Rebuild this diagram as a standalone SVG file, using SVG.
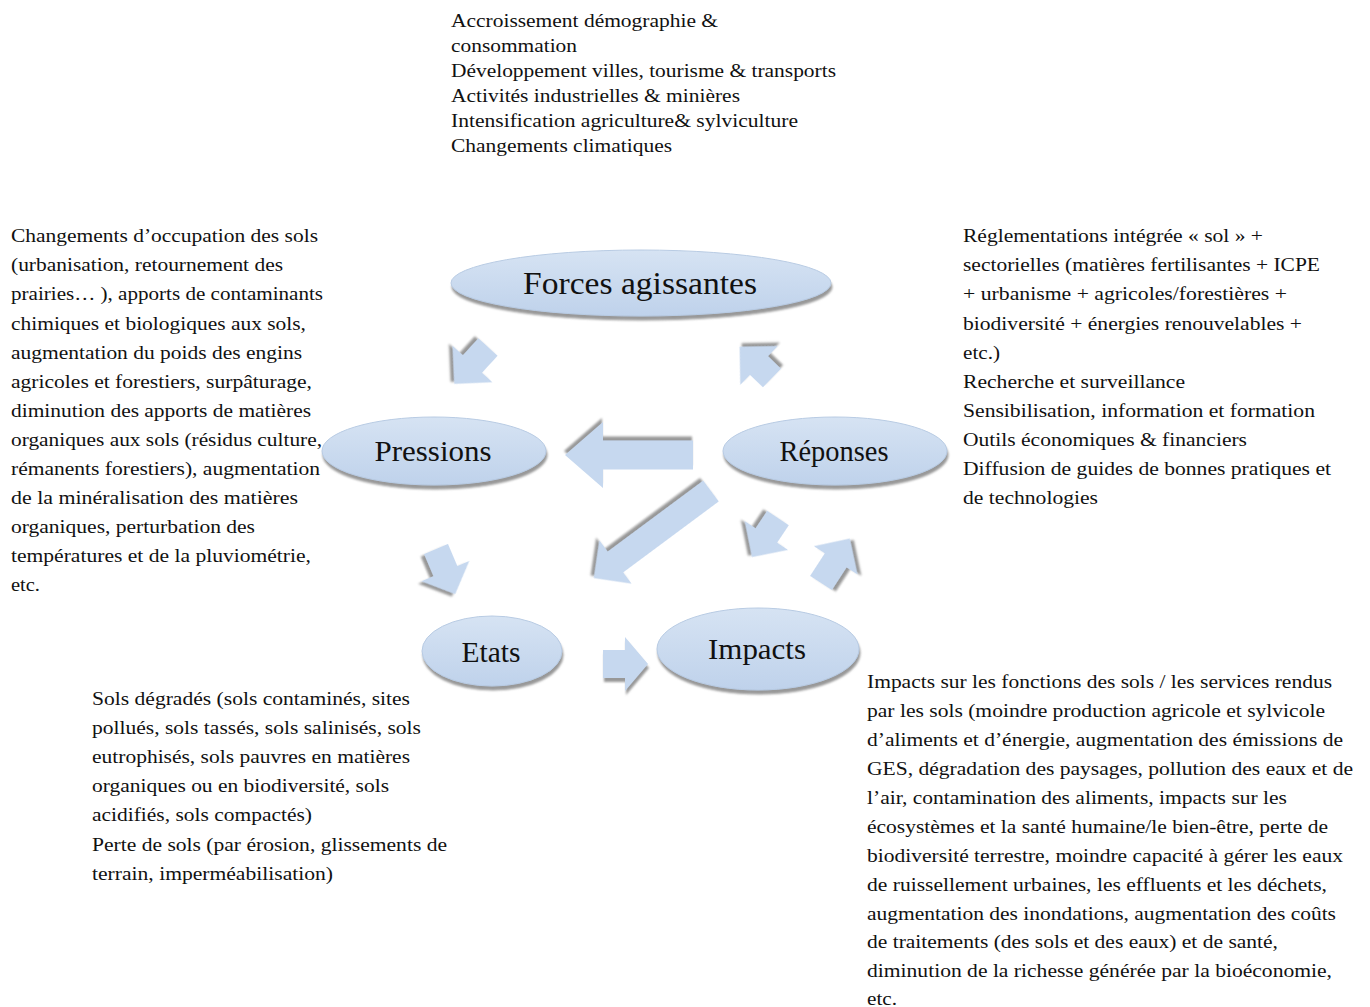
<svg xmlns="http://www.w3.org/2000/svg" width="1370" height="1007" viewBox="0 0 1370 1007">
<defs>
<linearGradient id="eg" x1="0" y1="0" x2="0" y2="1">
<stop offset="0" stop-color="#d6e3f3"/>
<stop offset="1" stop-color="#bfd2eb"/>
</linearGradient>
<filter id="sh" x="-20%" y="-20%" width="140%" height="150%">
<feDropShadow dx="1" dy="4" stdDeviation="1.2" flood-color="#7f7f7f" flood-opacity="0.8"/>
</filter>
<style>
.t{font-family:"Liberation Serif","Times New Roman",serif;font-size:19px;fill:#111;}
.n{font-family:"Liberation Serif","Times New Roman",serif;fill:#111;text-anchor:middle;}
.e{fill:url(#eg);stroke:#b8cbe3;stroke-width:1;filter:url(#sh);}
.a{fill:#c6d8ef;filter:url(#sh);}
</style>
</defs>
<rect width="1370" height="1007" fill="#fff"/>

<g id="connectors">
<path class="a" transform="translate(488,347) rotate(132.5)" d="M0,-13 H23 V-27 L50,0 L23,27 V13 H0 Z"/>
<path class="a" transform="translate(772,378) rotate(-136)" d="M0,-13 H18 V-27 L45,0 L18,27 V13 H0 Z"/>
<path class="a" transform="translate(693,455) rotate(180)" d="M0,-14.5 H90 V-33 L128,0 L90,33 V14.5 H0 Z"/>
<path class="a" transform="translate(711,491) rotate(143.4)" d="M0,-13 H119 V-27 L146,0 L119,27 V13 H0 Z"/>
<path class="a" transform="translate(436,549) rotate(67)" d="M0,-13 H24 V-26 L49,0 L24,26 V13 H0 Z"/>
<path class="a" transform="translate(778,518) rotate(123.7)" d="M0,-13 H21 V-26 L47,0 L21,26 V13 H0 Z"/>
<path class="a" transform="translate(821,583) rotate(-57)" d="M0,-13 H27 V-26 L53,0 L27,26 V13 H0 Z"/>
<path class="a" transform="translate(603,664) rotate(0)" d="M0,-14 H22 V-27 L45,0 L22,27 V14 H0 Z"/>
</g>

<g id="forces">
<ellipse class="e" cx="641" cy="283" rx="190" ry="33"/>
<text class="n" x="640" y="294" font-size="31" textLength="234" lengthAdjust="spacingAndGlyphs">Forces agissantes</text>
</g>
<g id="pressions">
<ellipse class="e" cx="434" cy="451" rx="112" ry="34"/>
<text class="n" x="433" y="461" font-size="29" textLength="117" lengthAdjust="spacingAndGlyphs">Pressions</text>
</g>
<g id="reponses">
<ellipse class="e" cx="835" cy="451" rx="112" ry="34"/>
<text class="n" x="834" y="461" font-size="29" textLength="109" lengthAdjust="spacingAndGlyphs">Réponses</text>
</g>
<g id="etats">
<ellipse class="e" cx="492" cy="651" rx="70" ry="35"/>
<text class="n" x="491" y="662" font-size="29" textLength="59" lengthAdjust="spacingAndGlyphs">Etats</text>
</g>
<g id="impacts">
<ellipse class="e" cx="758" cy="649" rx="101" ry="41"/>
<text class="n" x="757" y="659" font-size="29" textLength="98" lengthAdjust="spacingAndGlyphs">Impacts</text>
</g>

<g id="text-forces">
<text class="t" x="451" y="27" textLength="267" lengthAdjust="spacingAndGlyphs">Accroissement démographie &amp;</text>
<text class="t" x="451" y="52" textLength="126" lengthAdjust="spacingAndGlyphs">consommation</text>
<text class="t" x="451" y="77" textLength="385" lengthAdjust="spacingAndGlyphs">Développement villes, tourisme &amp; transports</text>
<text class="t" x="451" y="102" textLength="289" lengthAdjust="spacingAndGlyphs">Activités industrielles &amp; minières</text>
<text class="t" x="451" y="127" textLength="347" lengthAdjust="spacingAndGlyphs">Intensification agriculture&amp; sylviculture</text>
<text class="t" x="451" y="152" textLength="221" lengthAdjust="spacingAndGlyphs">Changements climatiques</text>
</g>

<g id="text-pressions">
<text class="t" x="11" y="242" textLength="307" lengthAdjust="spacingAndGlyphs">Changements d’occupation des sols</text>
<text class="t" x="11" y="271" textLength="272" lengthAdjust="spacingAndGlyphs">(urbanisation, retournement des</text>
<text class="t" x="11" y="300" textLength="312" lengthAdjust="spacingAndGlyphs">prairies… ), apports de contaminants</text>
<text class="t" x="11" y="330" textLength="295" lengthAdjust="spacingAndGlyphs">chimiques et biologiques aux sols,</text>
<text class="t" x="11" y="359" textLength="291" lengthAdjust="spacingAndGlyphs">augmentation du poids des engins</text>
<text class="t" x="11" y="388" textLength="301" lengthAdjust="spacingAndGlyphs">agricoles et forestiers, surpâturage,</text>
<text class="t" x="11" y="417" textLength="300" lengthAdjust="spacingAndGlyphs">diminution des apports de matières</text>
<text class="t" x="11" y="446" textLength="311" lengthAdjust="spacingAndGlyphs">organiques aux sols (résidus culture,</text>
<text class="t" x="11" y="475" textLength="309" lengthAdjust="spacingAndGlyphs">rémanents forestiers), augmentation</text>
<text class="t" x="11" y="504" textLength="287" lengthAdjust="spacingAndGlyphs">de la minéralisation des matières</text>
<text class="t" x="11" y="533" textLength="244" lengthAdjust="spacingAndGlyphs">organiques, perturbation des</text>
<text class="t" x="11" y="562" textLength="300" lengthAdjust="spacingAndGlyphs">températures et de la pluviométrie,</text>
<text class="t" x="11" y="591" textLength="29" lengthAdjust="spacingAndGlyphs">etc.</text>
</g>

<g id="text-reponses">
<text class="t" x="963" y="242" textLength="300" lengthAdjust="spacingAndGlyphs">Réglementations intégrée « sol » +</text>
<text class="t" x="963" y="271" textLength="357" lengthAdjust="spacingAndGlyphs">sectorielles (matières fertilisantes + ICPE</text>
<text class="t" x="963" y="300" textLength="324" lengthAdjust="spacingAndGlyphs">+ urbanisme + agricoles/forestières +</text>
<text class="t" x="963" y="330" textLength="339" lengthAdjust="spacingAndGlyphs">biodiversité + énergies renouvelables +</text>
<text class="t" x="963" y="359" textLength="37" lengthAdjust="spacingAndGlyphs">etc.)</text>
<text class="t" x="963" y="388" textLength="222" lengthAdjust="spacingAndGlyphs">Recherche et surveillance</text>
<text class="t" x="963" y="417" textLength="352" lengthAdjust="spacingAndGlyphs">Sensibilisation, information et formation</text>
<text class="t" x="963" y="446" textLength="284" lengthAdjust="spacingAndGlyphs">Outils économiques &amp; financiers</text>
<text class="t" x="963" y="475" textLength="368" lengthAdjust="spacingAndGlyphs">Diffusion de guides de bonnes pratiques et</text>
<text class="t" x="963" y="504" textLength="135" lengthAdjust="spacingAndGlyphs">de technologies</text>
</g>

<g id="text-etats">
<text class="t" x="92" y="705" textLength="318" lengthAdjust="spacingAndGlyphs">Sols dégradés (sols contaminés, sites</text>
<text class="t" x="92" y="734" textLength="329" lengthAdjust="spacingAndGlyphs">pollués, sols tassés, sols salinisés, sols</text>
<text class="t" x="92" y="763" textLength="318" lengthAdjust="spacingAndGlyphs">eutrophisés, sols pauvres en matières</text>
<text class="t" x="92" y="792" textLength="297" lengthAdjust="spacingAndGlyphs">organiques ou en biodiversité, sols</text>
<text class="t" x="92" y="821" textLength="220" lengthAdjust="spacingAndGlyphs">acidifiés, sols compactés)</text>
<text class="t" x="92" y="851" textLength="355" lengthAdjust="spacingAndGlyphs">Perte de sols (par érosion, glissements de</text>
<text class="t" x="92" y="880" textLength="241" lengthAdjust="spacingAndGlyphs">terrain, imperméabilisation)</text>
</g>

<g id="text-impacts">
<text class="t" x="867" y="688" textLength="465" lengthAdjust="spacingAndGlyphs">Impacts sur les fonctions des sols / les services rendus</text>
<text class="t" x="867" y="717" textLength="458" lengthAdjust="spacingAndGlyphs">par les sols (moindre production agricole et sylvicole</text>
<text class="t" x="867" y="746" textLength="476" lengthAdjust="spacingAndGlyphs">d’aliments et d’énergie, augmentation des émissions de</text>
<text class="t" x="867" y="775" textLength="486" lengthAdjust="spacingAndGlyphs">GES, dégradation des paysages, pollution des eaux et de</text>
<text class="t" x="867" y="804" textLength="420" lengthAdjust="spacingAndGlyphs">l’air, contamination des aliments, impacts sur les</text>
<text class="t" x="867" y="833" textLength="461" lengthAdjust="spacingAndGlyphs">écosystèmes et la santé humaine/le bien-être, perte de</text>
<text class="t" x="867" y="862" textLength="476" lengthAdjust="spacingAndGlyphs">biodiversité terrestre, moindre capacité à gérer les eaux</text>
<text class="t" x="867" y="891" textLength="460" lengthAdjust="spacingAndGlyphs">de ruissellement urbaines, les effluents et les déchets,</text>
<text class="t" x="867" y="920" textLength="469" lengthAdjust="spacingAndGlyphs">augmentation des inondations, augmentation des coûts</text>
<text class="t" x="867" y="948" textLength="411" lengthAdjust="spacingAndGlyphs">de traitements (des sols et des eaux) et de santé,</text>
<text class="t" x="867" y="977" textLength="465" lengthAdjust="spacingAndGlyphs">diminution de la richesse générée par la bioéconomie,</text>
<text class="t" x="867" y="1005" textLength="30" lengthAdjust="spacingAndGlyphs">etc.</text>
</g>
</svg>
